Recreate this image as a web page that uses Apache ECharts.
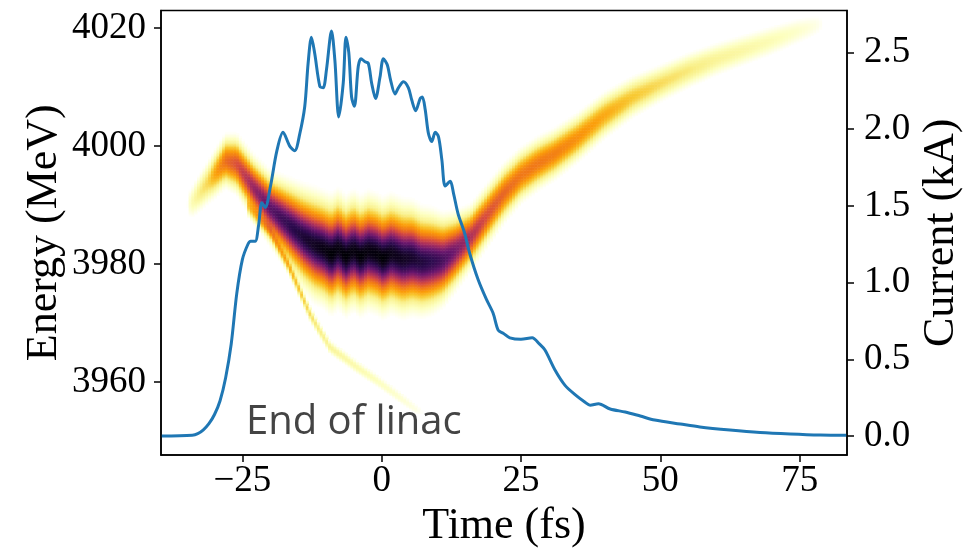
<!DOCTYPE html>
<html><head><meta charset="utf-8">
<script src="https://cdn.jsdelivr.net/npm/echarts@6/dist/echarts.min.js"></script>
<style>html,body{margin:0;padding:0;background:#fff}#c{width:980px;height:551px}</style>
</head><body><div id="c"></div>
<script>
// ---- tick labels ----
const timeTicks = [-25, 0, 25, 50, 75];
const energyTicks = [3960, 3980, 4000, 4020];
const currentTicks = [0, 0.5, 1.0, 1.5, 2.0, 2.5];

// ---- current profile (kA) vs time (fs) ----
const curT = [-39.6,-34,-33,-32,-31,-30,-29,-28,-27,-26,-25,-24,-23.5,-22.7,-22.1,-21.5,-20.9,-20,-18.8,-17.7,-16.5,-15.6,-14.7,-13.8,-13.2,-12.6,-12,-11.1,-10.5,-9.9,-9,-8.4,-7.7,-6.9,-6.4,-5.9,-5.4,-4.9,-4.2,-3.7,-3,-2.4,-1.8,-1.1,-0.3,0.3,1.0,1.6,2.4,3.0,3.9,4.8,5.4,6.1,6.9,7.3,7.8,8.4,9.0,9.6,10.2,10.8,11.4,12.3,12.9,13.7,14.9,15.8,17.3,18.8,20,20.9,21.8,23,25,27,28.3,29.3,31.1,32.9,34.7,36.5,37.4,38.9,41,43.7,46.4,49,53.6,57.1,62.5,67.9,73.3,78.7,83.5];
const curI = [0,0.005,0.015,0.04,0.08,0.14,0.23,0.38,0.6,0.93,1.15,1.25,1.27,1.27,1.37,1.52,1.49,1.62,1.86,1.98,1.89,1.86,1.97,2.15,2.43,2.60,2.49,2.28,2.27,2.39,2.64,2.45,2.08,2.30,2.60,2.50,2.21,2.15,2.41,2.46,2.44,2.43,2.30,2.20,2.34,2.46,2.42,2.32,2.23,2.27,2.31,2.27,2.19,2.12,2.20,2.21,2.13,1.97,1.92,1.98,1.95,1.80,1.63,1.66,1.58,1.45,1.32,1.19,1.02,0.89,0.80,0.69,0.67,0.64,0.63,0.64,0.60,0.56,0.43,0.33,0.27,0.22,0.20,0.21,0.176,0.156,0.13,0.104,0.078,0.059,0.039,0.023,0.013,0.006,0.004];

// ---- main energy band: centre (MeV), spread (MeV), relative density vs time ----
const bandT = [-35,-34,-31,-28,-26,-23,-20,-17,-14,-12,-10.5,-9,-7.7,-6.4,-5,-3.7,-2.4,-1,0.3,1.8,3.9,5.5,7.3,9,11,13,16,19,22,25,28,31,35,40,45,50,55,60,65,70,75,78,80];
const bandE = [3990,3990.5,3994,3997.5,3997,3993,3989.5,3987,3984.5,3983.2,3982.6,3981.6,3982.6,3981.3,3982.3,3981.3,3982.2,3981.8,3981,3981.8,3980.9,3981.1,3980.4,3980.5,3980.7,3982,3984.5,3988.3,3992,3995,3997,3998.6,4001.3,4005.2,4008.3,4010.6,4012.8,4014.7,4016.3,4017.9,4019.6,4020.5,4021];
const bandS = [1.2,1.3,1.5,1.65,1.8,1.9,2.1,2.5,2.9,3.1,3.1,3.2,3.2,3.2,3.2,3.2,3.2,3.2,3.2,3.2,3.2,3.1,3.0,2.9,2.6,2.3,1.9,1.85,1.8,1.7,1.65,1.6,1.55,1.5,1.4,1.3,1.28,1.25,1.22,1.2,1.15,1.1,1.1];
const bandP = [0,0.03,0.1,0.3,0.38,0.55,0.7,0.8,0.88,0.93,0.96,1,0.97,1,0.97,1,0.97,0.98,1,0.95,0.93,0.9,0.86,0.82,0.75,0.65,0.5,0.38,0.32,0.28,0.28,0.26,0.22,0.17,0.12,0.09,0.07,0.05,0.04,0.03,0.018,0.01,0];

// ---- low-energy tail branch ----
const tailT = [-24,-20,-16.5,-14.7,-12.9,-11.7,-9.3,-8.1,-6.9,-4.5,-0.9,2.7,6.3,8];
const tailE = [3990,3985.8,3979.5,3975.6,3971.7,3969.7,3966,3965.1,3964.3,3962.6,3960.3,3957.8,3955.3,3954.5];
const tailS = [0.8,0.7,0.6,0.6,0.55,0.55,0.55,0.55,0.55,0.55,0.55,0.55,0.55,0.55];
const tailP = [0.1,0.17,0.15,0.12,0.09,0.07,0.05,0.045,0.04,0.035,0.025,0.018,0.01,0];

const X_MIN = -39.6, X_MAX = 83.5, E_MIN = 3947.6, E_MAX = 4023.0, I_MIN = -0.124, I_MAX = 2.774;
const NX = 246, NY = 300;

function prof(ts, vs, t) {
  if (t < ts[0] || t > ts[ts.length - 1]) return null;
  for (let k = 0; k < ts.length - 1; k++) {
    if (t <= ts[k + 1]) { const f = (t - ts[k]) / (ts[k + 1] - ts[k]); return vs[k] + f * (vs[k + 1] - vs[k]); }
  }
  return vs[vs.length - 1];
}
function ridge(T, E, S, P, t, e) {
  const c = prof(T, E, t); if (c === null) return 0;
  const s = prof(T, S, t), p = prof(T, P, t);
  return p * Math.exp(-(e - c) * (e - c) / (2 * s * s));
}
const dx = (X_MAX - X_MIN) / NX, dy = (E_MAX - E_MIN) / NY;
const xCats = [], yCats = [], heat = [];
for (let i = 0; i < NX; i++) xCats.push((X_MIN + (i + 0.5) * dx).toFixed(3));
for (let j = 0; j < NY; j++) yCats.push((E_MIN + (j + 0.5) * dy).toFixed(3));
for (let i = 0; i < NX; i++) {
  const t = X_MIN + (i + 0.5) * dx;
  for (let j = 0; j < NY; j++) {
    const e = E_MIN + (j + 0.5) * dy;
    const v = ridge(bandT, bandE, bandS, bandP, t, e) + ridge(tailT, tailE, tailS, tailP, t, e);
    const u = Math.sqrt(Math.min(v, 1));
    if (u > 0.065) heat.push([i, j, u]);
  }
}

const serif = 'Liberation Serif';
const minus = v => (v < 0 ? '\u2212' + Math.abs(v) : String(v));
const gridBox = { left: 161, top: 10.5, width: 686, height: 444.5, containLabel: false, outerBoundsMode: 'none' };
const chart = echarts.init(document.getElementById('c'), null, { renderer: 'canvas' });
chart.setOption({
  animation: false,
  backgroundColor: '#fff',
  textStyle: { fontFamily: serif },
  grid: [
    Object.assign({ show: true, borderColor: '#000', borderWidth: 1.5, backgroundColor: 'transparent', z: 5 }, gridBox),
    Object.assign({ show: false }, gridBox)
  ],
  xAxis: [
    { type: 'value', gridIndex: 0, min: X_MIN, max: X_MAX, splitLine: { show: false },
      axisLine: { show: true, onZero: false, lineStyle: { color: '#000', width: 1.5 } },
      axisTick: { show: true, length: 7, lineStyle: { color: '#000', width: 1.5 }, customValues: timeTicks },
      axisLabel: { customValues: timeTicks, formatter: minus, color: '#000', fontFamily: serif, fontSize: 37, margin: 8 },
      name: 'Time (fs)', nameLocation: 'middle', nameGap: 42, nameTextStyle: { color: '#000', fontFamily: serif, fontSize: 44 } },
    { type: 'category', gridIndex: 1, data: xCats, show: false }
  ],
  yAxis: [
    { type: 'value', gridIndex: 0, position: 'left', min: E_MIN, max: E_MAX, splitLine: { show: false },
      axisLine: { show: true, onZero: false, lineStyle: { color: '#000', width: 1.5 } },
      axisTick: { show: true, length: 7, lineStyle: { color: '#000', width: 1.5 }, customValues: energyTicks },
      axisLabel: { customValues: energyTicks, formatter: v => String(v), color: '#000', fontFamily: serif, fontSize: 37, margin: 15 },
      name: 'Energy (MeV)', nameLocation: 'middle', nameRotate: 90, nameGap: 95, nameMoveOverlap: false, nameTextStyle: { color: '#000', fontFamily: serif, fontSize: 44 } },
    { type: 'value', gridIndex: 0, position: 'right', min: I_MIN, max: I_MAX, splitLine: { show: false },
      axisLine: { show: true, onZero: false, lineStyle: { color: '#000', width: 1.5 } },
      axisTick: { show: true, length: 7, lineStyle: { color: '#000', width: 1.5 }, customValues: currentTicks },
      axisLabel: { customValues: currentTicks, formatter: v => v.toFixed(1), color: '#000', fontFamily: serif, fontSize: 37, margin: 17 },
      name: 'Current (kA)', nameLocation: 'middle', nameRotate: 90, nameGap: 72, nameMoveOverlap: false, nameTextStyle: { color: '#000', fontFamily: serif, fontSize: 44 } },
    { type: 'category', gridIndex: 1, data: yCats, show: false }
  ],
  visualMap: {
    type: 'continuous', show: false, min: 0.06, max: 1, seriesIndex: 0, dimension: 2,
    inRange: { color: ['#ffffff', '#fdffc0', '#f9f08a', '#f8c932', '#fb9d0a', '#f07818', '#d84c3e', '#a72d5e', '#6a176e', '#2c0b4e', '#000004'] }
  },
  series: [
    { type: 'heatmap', xAxisIndex: 1, yAxisIndex: 2, data: heat, progressive: 0, silent: true, z: 1,
      emphasis: { disabled: true } },
    { type: 'line', xAxisIndex: 0, yAxisIndex: 1, data: curT.map((t, k) => [t, curI[k]]), showSymbol: false, symbol: 'none',
      smooth: 0.3, lineStyle: { color: '#1f77b4', width: 3 }, itemStyle: { color: '#1f77b4' }, silent: true, z: 3 }
  ],
  graphic: [
    { type: 'text', x: 246, y: 423, z: 10, silent: true,
      style: { text: 'End of linac', fill: '#444444', font: '40px "Open Sans"', textAlign: 'left', textVerticalAlign: 'middle', align: 'left', verticalAlign: 'middle' } }
  ]
});
</script></body></html>
